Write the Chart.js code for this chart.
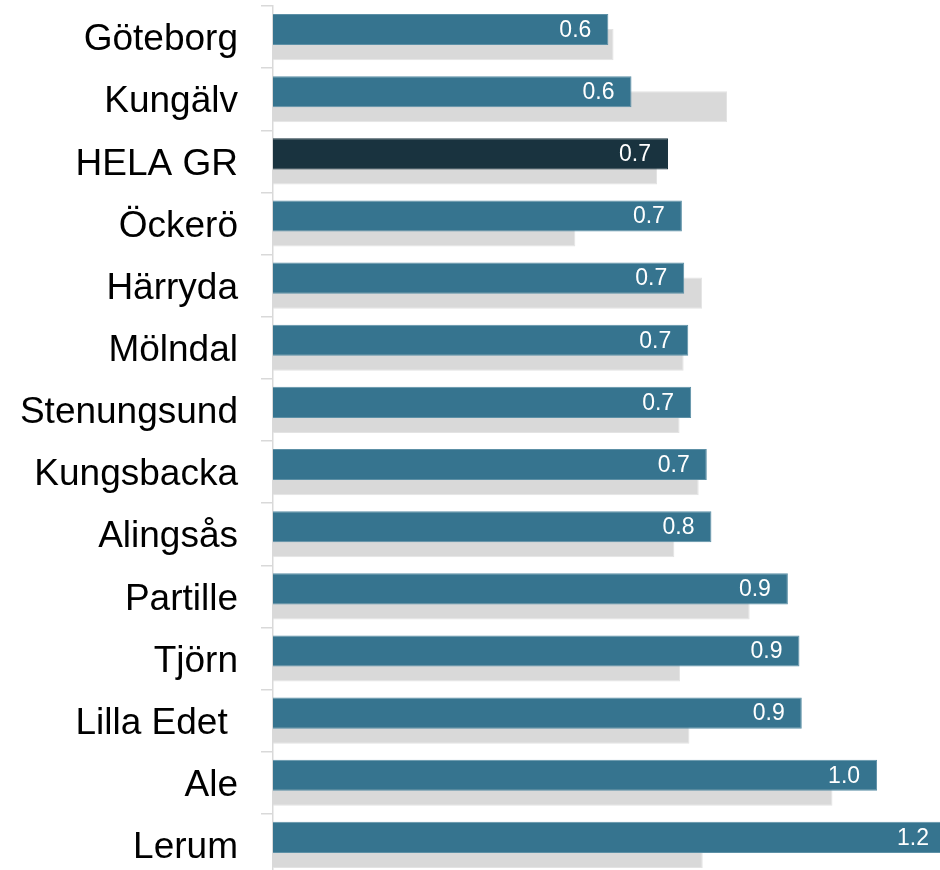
<!DOCTYPE html>
<html>
<head>
<meta charset="utf-8">
<script src="https://cdn.jsdelivr.net/npm/chart.js@4/dist/chart.umd.min.js"></script>
<style>
  html, body { margin: 0; padding: 0; background: #ffffff; }
  #wrap { width: 940px; height: 870px; overflow: hidden; position: relative; }
  #wrap canvas { position: absolute; left: 0; top: 0; }
</style>
</head>
<body>
<div id="wrap">
  <canvas id="chart" width="968" height="876"></canvas>
</div>
<script>
// kommuner, sorted as in the figure
const categories = ['Göteborg', 'Kungälv', 'HELA GR', 'Öckerö', 'Härryda', 'Mölndal', 'Stenungsund',
    'Kungsbacka', 'Alingsås', 'Partille', 'Tjörn', 'Lilla Edet ', 'Ale', 'Lerum'];

// current values (blue bars, labelled)
const currentValues = [0.579, 0.619, 0.682, 0.706, 0.710, 0.717, 0.722,
    0.749, 0.757, 0.889, 0.909, 0.913, 1.043, 1.162];

// comparison values (grey bars behind)
const previousValues = [0.588, 0.784, 0.663, 0.522, 0.741, 0.709, 0.702,
    0.735, 0.693, 0.823, 0.703, 0.719, 0.966, 0.742];

const highlight = 'HELA GR';
const blue = '#36748f';
const darkBlue = '#19333f';
const grey = '#d9d9d9';

const barColors = categories.map(c => c === highlight ? darkBlue : blue);
const barBorders = categories.map(c => c === highlight ? darkBlue : '#5d90a6');

// white value labels inside the end of the blue bars
const valueLabels = {
    id: 'valueLabels',
    afterDatasetsDraw(chart) {
        const ctx = chart.ctx;
        const meta = chart.getDatasetMeta(0);
        ctx.save();
        ctx.fillStyle = '#ffffff';
        ctx.font = '23px "Liberation Sans", Arial, sans-serif';
        ctx.textAlign = 'right';
        ctx.textBaseline = 'middle';
        meta.data.forEach((bar, i) => {
            ctx.fillText(currentValues[i].toFixed(1), bar.x - 17, bar.y + 1);
        });
        ctx.restore();
    }
};

const ctx = document.getElementById('chart').getContext('2d');
new Chart(ctx, {
    type: 'bar',
    data: {
        labels: categories,
        datasets: [
            {
                label: 'Nu',
                data: currentValues,
                backgroundColor: barColors,
                borderColor: barBorders,
                borderWidth: 1,
                categoryPercentage: 0.484,
                barPercentage: 2.067
            },
            {
                label: 'Tidigare',
                data: previousValues,
                backgroundColor: grey,
                borderColor: '#e3e3e3',
                borderWidth: 1,
                categoryPercentage: 0.484,
                barPercentage: 2.067
            }
        ]
    },
    options: {
        indexAxis: 'y',
        responsive: false,
        animation: false,
        layout: { padding: { top: 6, right: 0, bottom: 0, left: 0 } },
        plugins: {
            legend: { display: false },
            tooltip: { enabled: false }
        },
        scales: {
            x: {
                display: false,
                min: 0,
                max: 1.2
            },
            y: {
                grid: {
                    offset: true,
                    drawOnChartArea: false,
                    tickLength: 12,
                    color: '#d9d9d9',
                    lineWidth: 1.5
                },
                border: { color: '#d9d9d9', width: 1.5 },
                ticks: {
                    color: '#000000',
                    padding: 23,
                    labelOffset: 3,
                    font: { family: '"Liberation Sans", Arial, sans-serif', size: 37 }
                },
                afterFit(scale) {
                    scale.width = 273;
                    scale.paddingTop = 0;
                    scale.paddingBottom = 0;
                }
            }
        }
    },
    plugins: [valueLabels]
});
</script>
</body>
</html>
